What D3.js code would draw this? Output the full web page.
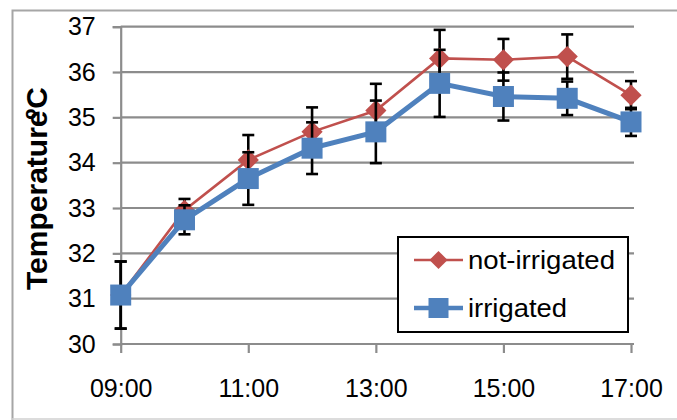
<!DOCTYPE html>
<html>
<head>
<meta charset="utf-8">
<script src="https://cdn.jsdelivr.net/npm/d3@7"></script>
<style>
  html, body { margin: 0; padding: 0; background: #fff; }
  svg { display: block; }
  text { font-family: "Liberation Sans", Arial, sans-serif; fill: #000; }
</style>
</head>
<body>
<svg id="chart" width="677" height="420"></svg>
<script>
// Hourly readings
const hours = ["09:00", "10:00", "11:00", "12:00", "13:00", "14:00", "15:00", "16:00", "17:00"];
const tickHours = ["09:00", "11:00", "13:00", "15:00", "17:00"];
const yTicks = [30, 31, 32, 33, 34, 35, 36, 37];

// Mean temperature (°C) per treatment and the error-bar half-widths
const notIrrigated    = [31.08, 32.95, 34.06, 34.68, 35.15, 36.30, 36.27, 36.34, 35.49];
const notIrrigatedErr = [0.74, 0.25, 0.55, 0.54, 0.59, 0.63, 0.46, 0.49, 0.31];
const irrigated       = [31.08, 32.74, 33.65, 34.32, 34.68, 35.75, 35.46, 35.42, 34.90];
const irrigatedErr    = [0.74, 0.32, 0.58, 0.57, 0.69, 0.74, 0.53, 0.37, 0.31];

const seriesNames = ["not-irrigated", "irrigated"];

const svg = d3.select("#chart");

// Chart frame
svg.append("path")
  .attr("d", "M12.5,420 V10.5 H677")
  .attr("fill", "none").attr("stroke", "#a6a6a6").attr("stroke-width", 2);
svg.append("line")
  .attr("x1", 12).attr("x2", 677).attr("y1", 419).attr("y2", 419)
  .attr("stroke", "#d0d0d0").attr("stroke-width", 1.5);

const x = d3.scalePoint().domain(hours).range([120.7, 631]);
const y = d3.scaleLinear().domain([30, 37]).range([344, 26.7]);
const plotRight = 634;

// Horizontal gridlines
svg.append("g").selectAll("line")
  .data(yTicks.slice(1))
  .join("line")
  .attr("x1", 120.7).attr("x2", plotRight)
  .attr("y1", d => y(d)).attr("y2", d => y(d))
  .attr("stroke", "#8c8c8c").attr("stroke-width", 2.2);

// Y axis
const yAxis = svg.append("g")
  .attr("transform", "translate(120.7,0)")
  .call(d3.axisLeft(y).tickValues(yTicks).tickSize(8).tickPadding(17).tickFormat(d3.format("d")));
yAxis.select(".domain").attr("stroke", "#8c8c8c").attr("stroke-width", 2.2);
yAxis.selectAll(".tick line").attr("stroke", "#8c8c8c").attr("stroke-width", 2.2);
yAxis.selectAll(".tick text").attr("font-size", 25).attr("font-family", "Liberation Sans, Arial, sans-serif").attr("fill", "#000");

// X axis
const xAxis = svg.append("g")
  .attr("transform", "translate(0,344)")
  .call(d3.axisBottom(x).tickValues(tickHours).tickSize(9).tickPadding(26).tickSizeOuter(0));
xAxis.select(".domain").attr("d", `M120.7,0H${plotRight}`).attr("stroke", "#8c8c8c").attr("stroke-width", 2.2);
xAxis.selectAll(".tick line").attr("stroke", "#8c8c8c").attr("stroke-width", 2.2);
xAxis.selectAll(".tick text").attr("font-size", 25).attr("font-family", "Liberation Sans, Arial, sans-serif").attr("fill", "#000");

// Y axis title: the unit sits on top of the word's last letter
const title = svg.append("g").attr("transform", "translate(47,290) rotate(-90)");
title.append("text")
  .attr("x", 0).attr("y", 0)
  .attr("font-size", 30).attr("font-weight", "bold")
  .text("Temperature");
title.append("text")
  .attr("x", 203).attr("y", 0)
  .attr("text-anchor", "end")
  .attr("font-size", 30).attr("font-weight", "bold")
  .text("ºC");

const red = "#c0504d", blue = "#4f81bd";
const line = d3.line().x((d, i) => x(hours[i])).y(d => y(d));

function errorBars(values, errs) {
  const g = svg.append("g").attr("stroke", "#000").attr("stroke-width", 2.6);
  values.forEach((v, i) => {
    const cx = x(hours[i]);
    const lo = y(v - errs[i]), hi = y(v + errs[i]);
    g.append("line").attr("x1", cx).attr("x2", cx).attr("y1", lo).attr("y2", hi);
    g.append("line").attr("x1", cx - 6).attr("x2", cx + 6).attr("y1", lo).attr("y2", lo);
    g.append("line").attr("x1", cx - 6).attr("x2", cx + 6).attr("y1", hi).attr("y2", hi);
  });
}

// not-irrigated series
svg.append("path").datum(notIrrigated)
  .attr("d", line).attr("fill", "none").attr("stroke", red).attr("stroke-width", 2.6);
errorBars(notIrrigated, notIrrigatedErr);
const diamond = d3.symbol().type(d3.symbolSquare).size(225);
svg.append("g").selectAll("path")
  .data(notIrrigated)
  .join("path")
  .attr("d", diamond)
  .attr("transform", (d, i) => `translate(${x(hours[i])},${y(d)}) rotate(45)`)
  .attr("fill", red);

// irrigated series
svg.append("path").datum(irrigated)
  .attr("d", line).attr("fill", "none").attr("stroke", blue).attr("stroke-width", 5);
errorBars(irrigated, irrigatedErr);
svg.append("g").selectAll("rect")
  .data(irrigated)
  .join("rect")
  .attr("x", (d, i) => x(hours[i]) - 10.5)
  .attr("y", d => y(d) - 10.5)
  .attr("width", 21).attr("height", 21)
  .attr("fill", blue);

// Legend
const legend = svg.append("g");
legend.append("rect")
  .attr("x", 398).attr("y", 237).attr("width", 230).attr("height", 95)
  .attr("fill", "#fff").attr("stroke", "#000").attr("stroke-width", 2);
const rows = [
  { name: seriesNames[0], color: red, width: 2.6, y: 260 },
  { name: seriesNames[1], color: blue, width: 4.5, y: 308 }
];
rows.forEach((r, k) => {
  legend.append("line")
    .attr("x1", 414).attr("x2", 463).attr("y1", r.y).attr("y2", r.y)
    .attr("stroke", r.color).attr("stroke-width", r.width);
  if (k === 0) {
    legend.append("path")
      .attr("d", d3.symbol().type(d3.symbolSquare).size(165))
      .attr("transform", `translate(438.5,${r.y}) rotate(45)`)
      .attr("fill", r.color);
  } else {
    legend.append("rect")
      .attr("x", 428.5).attr("y", r.y - 10).attr("width", 20).attr("height", 20)
      .attr("fill", r.color);
  }
  legend.append("text")
    .attr("x", 468).attr("y", r.y + 9)
    .attr("font-size", 25)
    .attr("textLength", k === 0 ? 147 : 99).attr("lengthAdjust", "spacingAndGlyphs")
    .text(r.name);
});
</script>
</body>
</html>
